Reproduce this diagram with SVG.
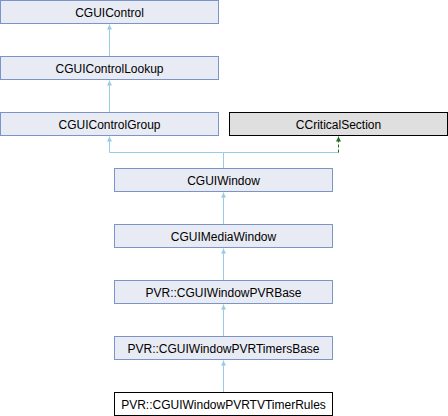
<svg xmlns="http://www.w3.org/2000/svg" width="448" height="416" viewBox="0 0 448 416">
<style>
.n rect{fill:#e8ebf4;stroke:#7b95c9;stroke-width:1}
.n text,.c text,.l text{font-family:"Liberation Sans",Arial,sans-serif;font-size:12px;fill:#000;text-anchor:middle}
.c rect{fill:#dfdfdf;stroke:#000;stroke-width:1}
.l rect{fill:#fff;stroke:#000;stroke-width:1}
.e{stroke:#9acbe8;stroke-width:1;fill:none}
.g{stroke:#1e6e1e;stroke-width:1;fill:none;stroke-dasharray:3,2}
</style>
<defs>
<marker id="ab" viewBox="0 0 10 10" refX="10" refY="5" markerWidth="5" markerHeight="5" markerUnits="userSpaceOnUse" orient="auto"><path d="M0,0 L10,5 L0,10 Z" fill="#9acbe8"/></marker>
<marker id="ag" viewBox="0 0 10 10" refX="10" refY="5" markerWidth="5" markerHeight="5" markerUnits="userSpaceOnUse" orient="auto"><path d="M0,0 L10,5 L0,10 Z" fill="#1e6e1e"/></marker>
</defs>
<g id="connectors">
<path class="e" d="M109.5,56.5 V24.5" marker-end="url(#ab)"/>
<path class="e" d="M109.5,112.5 V80.5" marker-end="url(#ab)"/>
<path class="e" d="M223.5,168.5 V152.5 H109.5 V136.5" marker-end="url(#ab)"/>
<path class="e" d="M223.5,152.5 H338.5"/>
<path class="g" d="M338.5,152.5 V136.5" marker-end="url(#ag)"/>
<path class="e" d="M223.5,224.5 V192.5" marker-end="url(#ab)"/>
<path class="e" d="M223.5,280.5 V248.5" marker-end="url(#ab)"/>
<path class="e" d="M223.5,336.5 V304.5" marker-end="url(#ab)"/>
<path class="e" d="M223.5,392.5 V360.5" marker-end="url(#ab)"/>
</g>
<g id="CGUIControl" class="n"><rect x="0.5" y="0.5" width="218" height="23"/><text x="109.5" y="16.5">CGUIControl</text></g>
<g id="CGUIControlLookup" class="n"><rect x="0.5" y="56.5" width="218" height="23"/><text x="109.5" y="72.5">CGUIControlLookup</text></g>
<g id="CGUIControlGroup" class="n"><rect x="0.5" y="112.5" width="218" height="23"/><text x="109.5" y="128.5">CGUIControlGroup</text></g>
<g id="CCriticalSection" class="c"><rect x="229.5" y="112.5" width="218" height="23"/><text x="338.5" y="128.5">CCriticalSection</text></g>
<g id="CGUIWindow" class="n"><rect x="114.5" y="168.5" width="218" height="23"/><text x="223.5" y="184.5">CGUIWindow</text></g>
<g id="CGUIMediaWindow" class="n"><rect x="114.5" y="224.5" width="218" height="23"/><text x="223.5" y="240.5">CGUIMediaWindow</text></g>
<g id="CGUIWindowPVRBase" class="n"><rect x="114.5" y="280.5" width="218" height="23"/><text x="223.5" y="296.5">PVR::CGUIWindowPVRBase</text></g>
<g id="CGUIWindowPVRTimersBase" class="n"><rect x="114.5" y="336.5" width="218" height="23"/><text x="223.5" y="352.5">PVR::CGUIWindowPVRTimersBase</text></g>
<g id="CGUIWindowPVRTVTimerRules" class="l"><rect x="114.5" y="392.5" width="218" height="23"/><text x="223.5" y="408.5">PVR::CGUIWindowPVRTVTimerRules</text></g>
</svg>
